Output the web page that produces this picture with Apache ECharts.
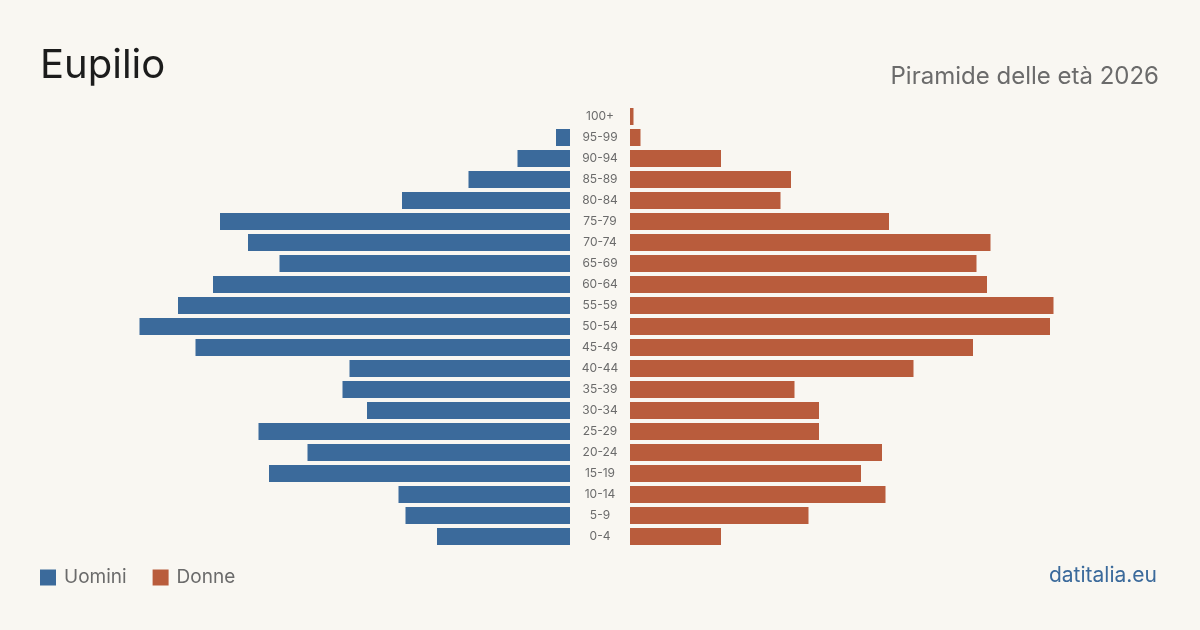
<!DOCTYPE html>
<html>
<head>
<meta charset="utf-8">
<script src="https://cdn.jsdelivr.net/npm/echarts@6/dist/echarts.min.js"></script>
<style>
  html, body { margin: 0; padding: 0; background: #f9f7f2; }
  #chart { width: 1200px; height: 630px; }
</style>
</head>
<body>
<div id="chart"></div>
<script>
// fasce d'età, dal basso verso l'alto
var ageGroups = ['0-4', '5-9', '10-14', '15-19', '20-24', '25-29', '30-34', '35-39', '40-44',
    '45-49', '50-54', '55-59', '60-64', '65-69', '70-74', '75-79', '80-84', '85-89',
    '90-94', '95-99', '100+'];
var uomini = [38, 47, 49, 86, 75, 89, 58, 65, 63, 107, 123, 112, 102, 83, 92, 100, 48, 29, 15, 4, 0];
var donne = [26, 51, 73, 66, 72, 54, 54, 47, 81, 98, 120, 121, 102, 99, 103, 74, 43, 46, 26, 3, 1];

var AXIS_MAX = 440 / 3.5;
var BLUE = '#3b6a9b';
var RUST = '#b95c3c';
var FONT = 'Inter, "Noto Sans", sans-serif';

var chart = echarts.init(document.getElementById('chart'), null, { renderer: 'canvas' });

chart.setOption({
    backgroundColor: '#f9f7f2',
    animation: false,
    textStyle: { fontFamily: FONT },
    title: [{
        text: 'Eupilio',
        left: 40, top: 46, padding: 0,
        textStyle: { fontSize: 40, fontWeight: 'normal', color: '#1c1c1c', fontFamily: FONT }
    }, {
        text: 'Piramide delle età 2026',
        right: 41, top: 65, padding: 0,
        textStyle: { fontSize: 24, fontWeight: 'normal', color: '#6b6b6b', fontFamily: FONT }
    }, {
        text: 'datitalia.eu',
        right: 43, top: 565, padding: 0,
        textStyle: { fontSize: 21, fontWeight: 'normal', color: '#3b6a9b', fontFamily: FONT }
    }],
    legend: {
        left: 40, top: 568, padding: 0,
        itemWidth: 16, itemHeight: 16, itemGap: 26,
        icon: 'rect',
        textStyle: { fontSize: 19, color: '#6b6b6b', fontFamily: FONT, padding: [0, 0, 0, 3] },
        data: ['Uomini', 'Donne']
    },
    grid: [
        { left: 130, width: 440, top: 106, height: 441 },
        { left: 630, width: 440, top: 106, height: 441 }
    ],
    xAxis: [
        { gridIndex: 0, type: 'value', inverse: true, min: 0, max: AXIS_MAX, show: false },
        { gridIndex: 1, type: 'value', min: 0, max: AXIS_MAX, show: false }
    ],
    yAxis: [
        { gridIndex: 0, type: 'category', data: ageGroups, position: 'right', show: false },
        {
            gridIndex: 1, type: 'category', data: ageGroups, position: 'left',
            axisLine: { show: false }, axisTick: { show: false },
            axisLabel: {
                align: 'center', margin: 30, fontSize: 12, color: '#6b6b6b',
                fontFamily: FONT, padding: [5, 0, 0, 0]
            }
        }
    ],
    series: [{
        name: 'Uomini', type: 'bar', xAxisIndex: 0, yAxisIndex: 0,
        data: uomini, barWidth: 17, itemStyle: { color: BLUE }
    }, {
        name: 'Donne', type: 'bar', xAxisIndex: 1, yAxisIndex: 1,
        data: donne, barWidth: 17, itemStyle: { color: RUST }
    }]
});
</script>
</body>
</html>
